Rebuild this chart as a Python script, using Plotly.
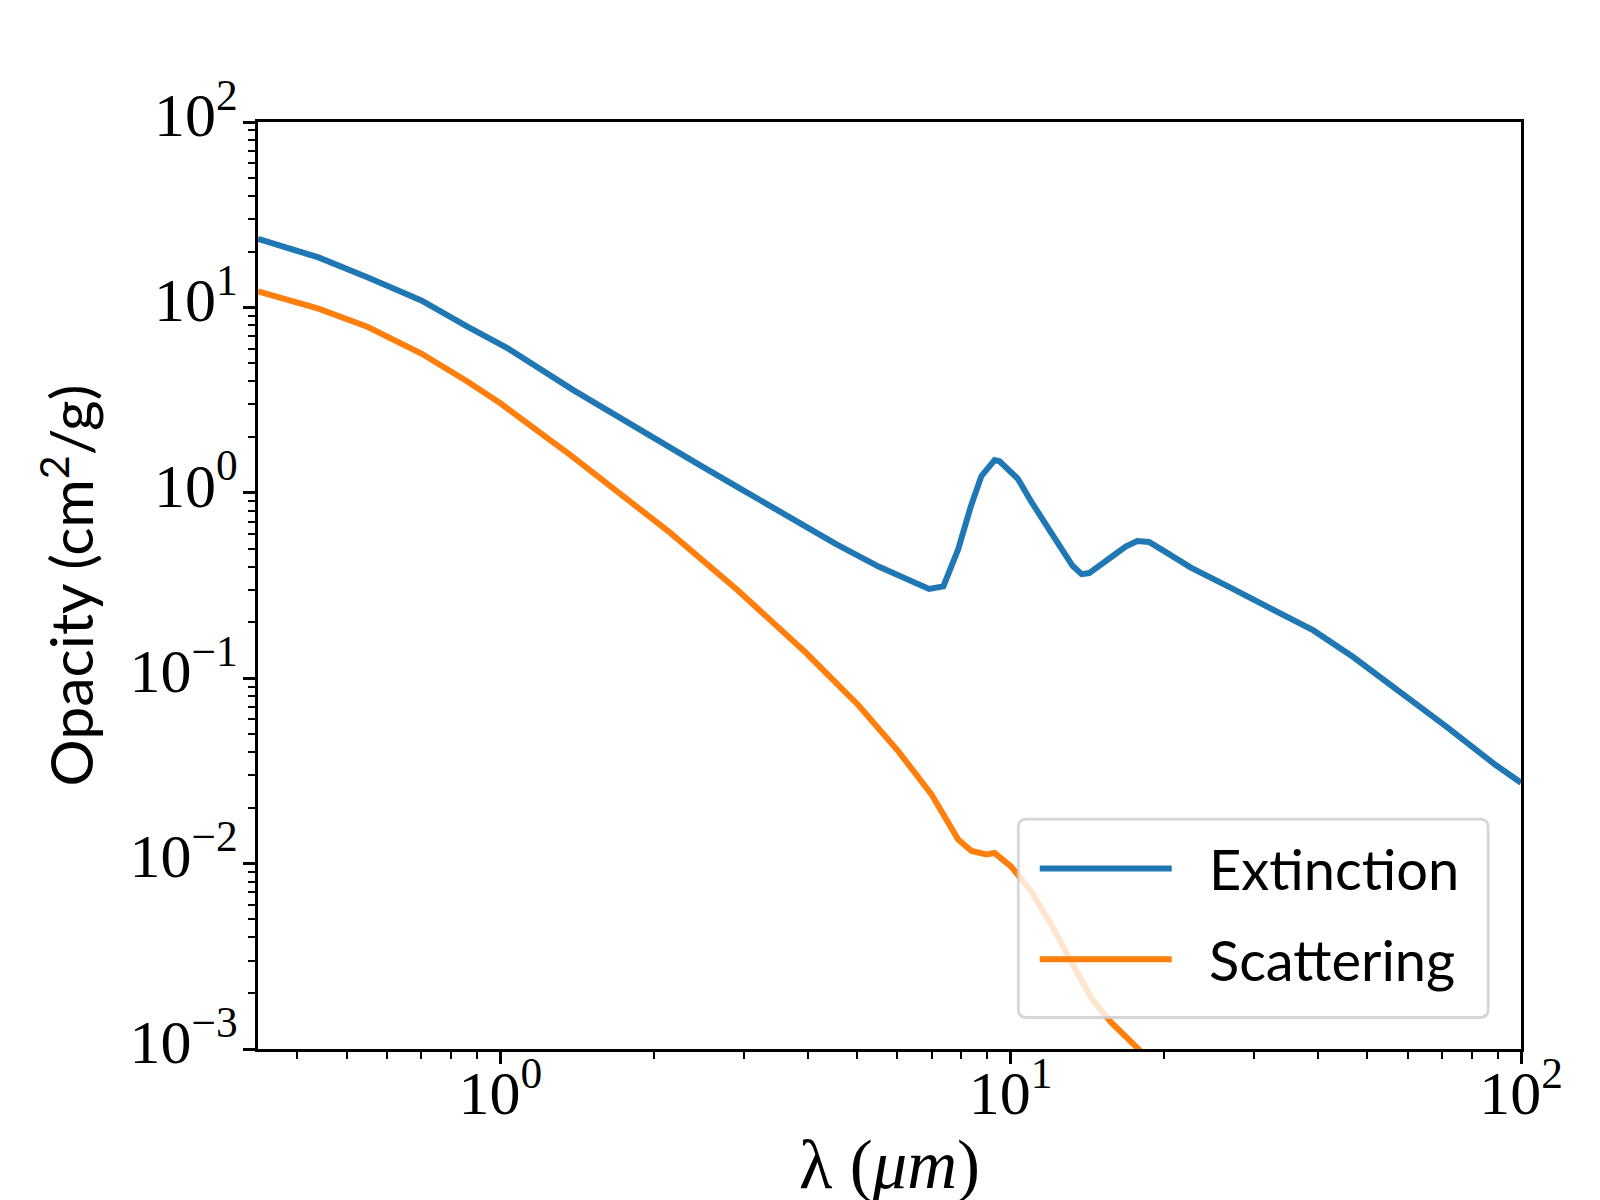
import plotly.graph_objects as go

# wavelength (micron) and opacity (cm^2/g)
lam_ext = [0.335, 0.44, 0.55, 0.70, 0.86, 1.03, 1.39, 1.87, 2.45, 2.94, 3.36, 3.84,
           4.54, 5.51, 6.92, 7.38, 7.89, 8.35, 8.76, 9.30, 9.51, 10.33, 10.96, 12.0,
           13.22, 13.77, 14.25, 15.7, 16.8, 17.7, 18.66, 19.96, 22.5, 26.9, 33.7,
           39.2, 46.9, 56.9, 71.3, 89.2, 100.0]
kap_ext = [23.4, 18.6, 14.5, 10.9, 7.9, 6.05, 3.58, 2.19, 1.42, 1.06, 0.857, 0.69,
           0.53, 0.40, 0.303, 0.313, 0.496, 0.841, 1.23, 1.50, 1.48, 1.19, 0.90, 0.61,
           0.404, 0.364, 0.369, 0.448, 0.513, 0.550, 0.543, 0.486, 0.396, 0.309, 0.227,
           0.181, 0.130, 0.088, 0.055, 0.034, 0.0273]

lam_sca = [0.335, 0.44, 0.55, 0.70, 0.86, 1.0, 1.37, 1.61, 1.77, 2.15, 2.91, 3.57,
           3.96, 5.03, 6.03, 7.0, 7.89, 8.38, 8.96, 9.30, 10.0, 10.96, 12.0, 13.1,
           14.36, 15.7, 16.9, 18.66, 19.96]
kap_sca = [12.2, 9.84, 7.84, 5.64, 4.0, 3.04, 1.6, 1.13, 0.92, 0.61, 0.30, 0.18,
           0.138, 0.0715, 0.0402, 0.0235, 0.0135, 0.0117, 0.0112, 0.0114, 0.0097, 0.0071,
           0.0047, 0.0030, 0.0019, 0.0014, 0.00116, 0.00088, 0.00072]

series_names = ["Extinction", "Scattering"]
series_colors = ["#1f77b4", "#ff7f0e"]

x_tick_vals = [1, 10, 100]
x_tick_text = ["10<sup>0</sup>", "10<sup>1</sup>", "10<sup>2</sup>"]
y_tick_vals = [1e-3, 1e-2, 1e-1, 1, 10, 100]
y_tick_text = ["10<sup>\u22123</sup>", "10<sup>\u22122</sup>", "10<sup>\u22121</sup>",
               "10<sup>0</sup>", "10<sup>1</sup>", "10<sup>2</sup>"]

minor_x = [m * 10 ** e for e in (-1, 0, 1) for m in range(2, 10)]
minor_y = [m * 10 ** e for e in range(-3, 2) for m in range(2, 10)]

SERIF = "Liberation Serif"
SANS = "Lato"
NB = "\u00a0\u00a0\u200a"  # gap between legend line and label

fig = go.Figure()
for lam, kap, name, col in zip([lam_ext, lam_sca], [kap_ext, kap_sca],
                               series_names, series_colors):
    fig.add_trace(go.Scatter(x=lam, y=kap, mode="lines", name=NB + name,
                             legendgroup=name,
                             line=dict(color=col, width=6)))

axis_common = dict(
    type="log", showgrid=False, zeroline=False,
    showline=True, linecolor="black", linewidth=2.8, mirror=True,
    ticks="outside", ticklen=12, tickwidth=2.8, tickcolor="black",
    tickfont=dict(family=SERIF, size=62, color="black"),
    tickmode="array",
)

fig.update_xaxes(
    **axis_common,
    range=[-0.475, 2],
    tickvals=x_tick_vals, ticktext=x_tick_text,
    ticklabelstandoff=-24,
    minor=dict(ticks="outside", ticklen=7, tickwidth=2, tickcolor="black",
               tickmode="array", tickvals=minor_x, showgrid=False),
    title=dict(text="\u03bb (<i>\u03bcm</i>)", standoff=14,
               font=dict(family=SERIF, size=69, color="black")),
)
fig.update_yaxes(
    **axis_common,
    range=[-3, 2],
    tickvals=y_tick_vals, ticktext=y_tick_text,
    ticklabelstandoff=-7, ticklabelshift=-8,
    minor=dict(ticks="outside", ticklen=7, tickwidth=2, tickcolor="black",
               tickmode="array", tickvals=minor_y, showgrid=False),
    title=dict(text="Opacity (cm<sup>2</sup>/g)", standoff=17,
               font=dict(family=SANS, size=59, color="black")),
)

# legend frame (rounded, semi-transparent like matplotlib's)
bx0, bx1, by0, by1 = 0.602, 0.974, 0.034, 0.248
rx, ry = 8 / 1239, 8 / 910
frame = (f"M {bx0 + rx},{by1} L {bx1 - rx},{by1} Q {bx1},{by1} {bx1},{by1 - ry} "
         f"L {bx1},{by0 + ry} Q {bx1},{by0} {bx1 - rx},{by0} "
         f"L {bx0 + rx},{by0} Q {bx0},{by0} {bx0},{by0 + ry} "
         f"L {bx0},{by1 - ry} Q {bx0},{by1} {bx0 + rx},{by1} Z")
fig.add_shape(type="path", path=frame, xref="paper", yref="paper", layer="above",
              fillcolor="rgba(255,255,255,0.8)",
              line=dict(color="rgba(204,204,204,0.8)", width=2.8))

fig.update_layout(
    width=1600, height=1200,
    paper_bgcolor="white", plot_bgcolor="white",
    margin=dict(l=250, r=87, t=114, b=159, autoexpand=False),
    showlegend=True,
    legend=dict(x=0.615, y=0.241, xanchor="left", yanchor="top",
                bgcolor="rgba(0,0,0,0)", borderwidth=0,
                font=dict(family=SANS, size=56, color="black"),
                itemwidth=132, traceorder="grouped", tracegroupgap=15),
)

fig.write_html("out.html")
